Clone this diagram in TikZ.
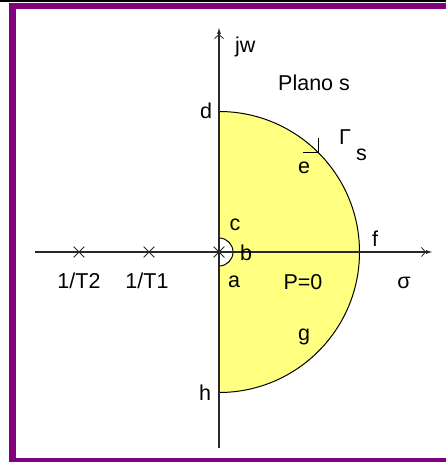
\documentclass[tikz,border=0pt]{standalone}
\usepackage{fontspec}
\setmainfont{Liberation Sans}
\usetikzlibrary{arrows.meta,shapes.misc,calc}
\definecolor{framepurple}{RGB}{128,0,128}
\definecolor{fillyellow}{RGB}{255,255,128}
\definecolor{axisgray}{RGB}{40,40,40}
\begin{document}
\begin{tikzpicture}[x=1pt,y=1pt,
  font=\fontsize{21.5}{25}\selectfont,
  lab/.style={inner sep=0pt},
  axisline/.style={draw=axisgray,line width=1.2pt,-{Straight Barb[length=4pt,width=9pt,line width=0.8pt] Latex[length=7pt,width=4pt]}},
  curveline/.style={draw=black,line width=1pt},
  pole/.style={cross out,draw=axisgray,line width=0.8pt,minimum size=10pt,inner sep=0pt}]
\useasboundingbox (0,0) rectangle (446,462);
% frame
\fill[black] (0,459.7) rectangle (446,462);
\fill[framepurple] (9,452.7) rectangle (446,458.7);
\fill[framepurple] (9,0) rectangle (15.7,458.7);
\fill[framepurple] (9,0) rectangle (446,4);
% key points
\coordinate (O) at (219,210);
\coordinate (d) at (219,350.5);
\coordinate (h) at (219,69.5);
\coordinate (c) at (219,224);
\coordinate (a) at (219,196);
% yellow region
\fill[fillyellow] (h) arc[start angle=-90,end angle=90,radius=140.5pt] -- (c)
  arc[start angle=90,end angle=-90,radius=14pt] -- cycle;
\draw[curveline] (d) arc[start angle=90,end angle=-90,radius=140.5pt];
\draw[curveline] (c) arc[start angle=90,end angle=-90,radius=14pt];
% axes
\coordinate (xl) at (35,210);
\coordinate (xr) at (433,210);
\coordinate (yb) at (219,14);
\coordinate (yt) at (219,435);
\draw[axisline] (xl) -- (xr);
\draw[axisline] (yb) -- (yt);
% poles
\node[pole] (p0) at (O) {};
\node[pole] (p1) at (149,210) {};
\node[pole] (p2) at (79,210) {};
% direction mark at e
\coordinate (em) at ($(O)+(45:140.5pt)$);
\draw[curveline] ([xshift=-15pt]em) -- (em) -- ([yshift=15pt]em);
% labels
\node[lab] (l2) at (79,181) {1/T2};
\node[lab] (l1) at (147,181) {1/T1};
\node[lab] (la) at (234,180) {a};
\node[lab] (lb) at (246,209) {b};
\node[lab] (lc) at (235,237) {c};
\node[lab] (ld) at (206,351) {d};
\node[lab] (le) at (304,294) {e};
\node[lab] (lf) at (375,223) {f};
\node[lab] (lg) at (304,125) {g};
\node[lab] (lh) at (205,69) {h};
\node[lab] (lp) at (303,180) {P=0};
\node[lab] (ls) at (404,179) {σ};
\node[lab,anchor=base west] (ljw) at (235,409) {jw};
\node[lab,anchor=base west] (lplano) at (278,371) {Plano s};
\node[lab,anchor=base west] (lgam) at (339,317) {Γ};
\node[lab,anchor=base west] (lgs) at (356,301) {s};
\end{tikzpicture}
\end{document}
